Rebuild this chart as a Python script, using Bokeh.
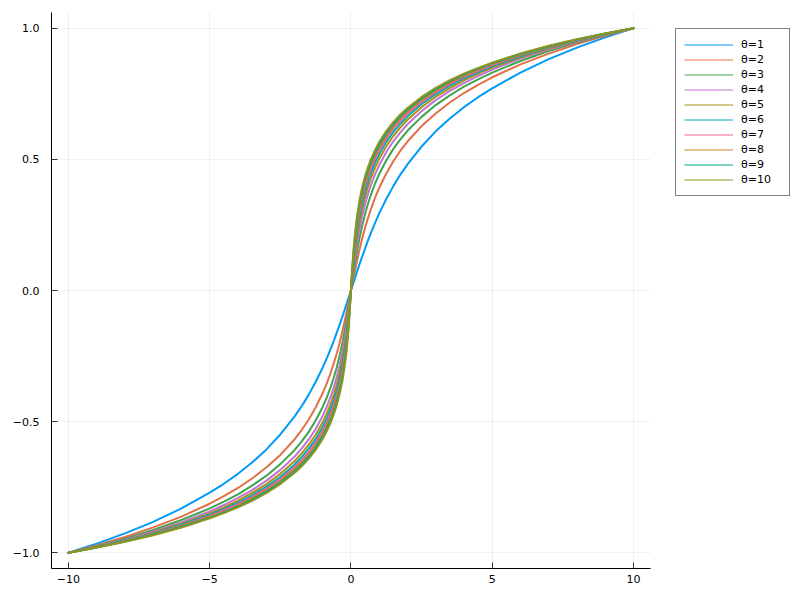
from bokeh.plotting import figure
from bokeh.models import Range1d, Legend, LegendItem, FixedTicker
from bokeh.embed import file_html
from bokeh.resources import INLINE

xs = [-10, -9, -8, -7, -6, -5, -4.5, -4, -3.5, -3, -2.5, -2, -1.75, -1.5, -1.25, -1, -0.85, -0.7,
      -0.6, -0.5, -0.4, -0.3, -0.2, -0.15, -0.1, -0.05, 0,
      0.05, 0.1, 0.15, 0.2, 0.3, 0.4, 0.5, 0.6, 0.7, 0.85, 1, 1.25, 1.5, 1.75, 2, 2.5, 3, 3.5,
      4, 4.5, 5, 6, 7, 8, 9, 10]

theta1 = [-1.0, -0.965, -0.926, -0.882, -0.831, -0.771, -0.737, -0.699, -0.656, -0.607, -0.549, -0.481, -0.442, -0.398, -0.349, -0.294, -0.257, -0.218,
          -0.190, -0.160, -0.130, -0.099, -0.066, -0.050, -0.033, -0.017, 0.0,
          0.017, 0.033, 0.050, 0.066, 0.099, 0.130, 0.160, 0.190, 0.218, 0.257, 0.294, 0.349, 0.398, 0.442, 0.481, 0.549, 0.607, 0.656,
          0.699, 0.737, 0.771, 0.831, 0.882, 0.926, 0.965, 1.0]
theta2 = [-1.0, -0.971, -0.940, -0.903, -0.862, -0.813, -0.784, -0.753, -0.717, -0.675, -0.627, -0.568, -0.533, -0.493, -0.446, -0.391, -0.353, -0.308,
          -0.275, -0.239, -0.199, -0.154, -0.106, -0.080, -0.054, -0.027, 0.0,
          0.027, 0.054, 0.080, 0.106, 0.154, 0.199, 0.239, 0.275, 0.308, 0.353, 0.391, 0.446, 0.493, 0.533, 0.568, 0.627, 0.675, 0.717,
          0.753, 0.784, 0.813, 0.862, 0.903, 0.940, 0.971, 1.0]
theta3 = [-1.0, -0.974, -0.946, -0.913, -0.875, -0.831, -0.805, -0.777, -0.744, -0.707, -0.662, -0.609, -0.576, -0.540, -0.496, -0.444, -0.407, -0.363,
          -0.330, -0.292, -0.248, -0.198, -0.139, -0.106, -0.072, -0.036, 0.0,
          0.036, 0.072, 0.106, 0.139, 0.198, 0.248, 0.292, 0.330, 0.363, 0.407, 0.444, 0.496, 0.540, 0.576, 0.609, 0.662, 0.707, 0.744,
          0.777, 0.805, 0.831, 0.875, 0.913, 0.946, 0.974, 1.0]
theta4 = [-1.0, -0.976, -0.949, -0.919, -0.884, -0.842, -0.818, -0.791, -0.761, -0.726, -0.684, -0.634, -0.603, -0.569, -0.528, -0.478, -0.442, -0.400,
          -0.367, -0.329, -0.285, -0.232, -0.167, -0.130, -0.089, -0.045, 0.0,
          0.045, 0.089, 0.130, 0.167, 0.232, 0.285, 0.329, 0.367, 0.400, 0.442, 0.478, 0.528, 0.569, 0.603, 0.634, 0.684, 0.726, 0.761,
          0.791, 0.818, 0.842, 0.884, 0.919, 0.949, 0.976, 1.0]
theta5 = [-1.0, -0.977, -0.952, -0.923, -0.889, -0.850, -0.827, -0.801, -0.772, -0.739, -0.699, -0.651, -0.622, -0.589, -0.550, -0.502, -0.468, -0.427,
          -0.395, -0.358, -0.313, -0.259, -0.191, -0.151, -0.104, -0.054, 0.0,
          0.054, 0.104, 0.151, 0.191, 0.259, 0.313, 0.358, 0.395, 0.427, 0.468, 0.502, 0.550, 0.589, 0.622, 0.651, 0.699, 0.739, 0.772,
          0.801, 0.827, 0.850, 0.889, 0.923, 0.952, 0.977, 1.0]
theta6 = [-1.0, -0.978, -0.953, -0.926, -0.893, -0.855, -0.833, -0.809, -0.781, -0.749, -0.711, -0.664, -0.636, -0.604, -0.567, -0.520, -0.487, -0.447,
          -0.416, -0.380, -0.336, -0.282, -0.212, -0.169, -0.119, -0.062, 0.0,
          0.062, 0.119, 0.169, 0.212, 0.282, 0.336, 0.380, 0.416, 0.447, 0.487, 0.520, 0.567, 0.604, 0.636, 0.664, 0.711, 0.749, 0.781,
          0.809, 0.833, 0.855, 0.893, 0.926, 0.953, 0.978, 1.0]
theta7 = [-1.0, -0.979, -0.955, -0.928, -0.897, -0.860, -0.838, -0.815, -0.788, -0.756, -0.720, -0.675, -0.648, -0.617, -0.580, -0.535, -0.503, -0.464,
          -0.433, -0.398, -0.355, -0.301, -0.230, -0.185, -0.132, -0.069, 0.0,
          0.069, 0.132, 0.185, 0.230, 0.301, 0.355, 0.398, 0.433, 0.464, 0.503, 0.535, 0.580, 0.617, 0.648, 0.675, 0.720, 0.756, 0.788,
          0.815, 0.838, 0.860, 0.897, 0.928, 0.955, 0.979, 1.0]
theta8 = [-1.0, -0.979, -0.956, -0.930, -0.899, -0.863, -0.843, -0.820, -0.793, -0.763, -0.727, -0.683, -0.657, -0.627, -0.591, -0.547, -0.515, -0.478,
          -0.448, -0.413, -0.370, -0.317, -0.246, -0.200, -0.144, -0.077, 0.0,
          0.077, 0.144, 0.200, 0.246, 0.317, 0.370, 0.413, 0.448, 0.478, 0.515, 0.547, 0.591, 0.627, 0.657, 0.683, 0.727, 0.763, 0.793,
          0.820, 0.843, 0.863, 0.899, 0.930, 0.956, 0.979, 1.0]
theta9 = [-1.0, -0.980, -0.957, -0.931, -0.902, -0.867, -0.846, -0.824, -0.798, -0.768, -0.733, -0.690, -0.665, -0.635, -0.600, -0.557, -0.526, -0.489,
          -0.460, -0.425, -0.384, -0.331, -0.260, -0.213, -0.156, -0.084, 0.0,
          0.084, 0.156, 0.213, 0.260, 0.331, 0.384, 0.425, 0.460, 0.489, 0.526, 0.557, 0.600, 0.635, 0.665, 0.690, 0.733, 0.768, 0.798,
          0.824, 0.846, 0.867, 0.902, 0.931, 0.957, 0.980, 1.0]
theta10 = [-1.0, -0.980, -0.958, -0.933, -0.904, -0.869, -0.849, -0.827, -0.802, -0.773, -0.738, -0.696, -0.671, -0.642, -0.608, -0.566, -0.535, -0.499,
           -0.470, -0.436, -0.395, -0.343, -0.272, -0.225, -0.166, -0.091, 0.0,
           0.091, 0.166, 0.225, 0.272, 0.343, 0.395, 0.436, 0.470, 0.499, 0.535, 0.566, 0.608, 0.642, 0.671, 0.696, 0.738, 0.773, 0.802,
           0.827, 0.849, 0.869, 0.904, 0.933, 0.958, 0.980, 1.0]

series = [theta1, theta2, theta3, theta4, theta5, theta6, theta7, theta8, theta9, theta10]
labels = ["θ=1", "θ=2", "θ=3", "θ=4", "θ=5", "θ=6", "θ=7", "θ=8", "θ=9", "θ=10"]
colors = ["#009AFA", "#E36F47", "#3EA44E", "#C371D2", "#AC8E18",
          "#00AAAE", "#ED5E93", "#C68225", "#00A98D", "#8E971D"]

x_ticks = [-10, -5, 0, 5, 10]
x_tick_labels = ["−10", "−5", "0", "5", "10"]
y_ticks = [-1.0, -0.5, 0.0, 0.5, 1.0]
y_tick_labels = ["−1.0", "−0.5", "0.0", "0.5", "1.0"]
x_lim = (-10.6, 10.6)
y_lim = (-1.06, 1.06)

FONT = "DejaVu Sans"
W, H = 800, 600
LEFT, BOTTOM, TOP = 51, 32, 12
px_per_x = 28.25  # horizontal scale of the axes box
x_end_frame = x_lim[0] + (W - LEFT) / px_per_x  # frame extends under the legend area

p = figure(width=W, height=H, output_backend="svg", toolbar_location=None,
           x_range=Range1d(x_lim[0], x_end_frame), y_range=Range1d(*y_lim),
           min_border_left=LEFT, min_border_right=0, min_border_top=TOP, min_border_bottom=BOTTOM)
p.outline_line_color = None
p.background_fill_color = "white"
p.border_fill_color = "white"

for ax, ticks, labs in ((p.xaxis[0], x_ticks, x_tick_labels), (p.yaxis[0], y_ticks, y_tick_labels)):
    ax.ticker = FixedTicker(ticks=ticks)
    ax.major_label_overrides = {t: l for t, l in zip(ticks, labs)}
    ax.major_tick_in = 6
    ax.major_tick_out = 0
    ax.minor_tick_in = 0
    ax.minor_tick_out = 0
    ax.axis_line_color = "black"
    ax.major_tick_line_color = "#333333"
    ax.major_label_text_font = FONT
    ax.major_label_text_font_size = "11px"
    ax.major_label_text_color = "black"
p.xaxis[0].bounds = x_lim
p.xaxis[0].major_label_standoff = 6
p.yaxis[0].major_label_standoff = 12

for g in (p.xgrid[0], p.ygrid[0]):
    g.grid_line_color = "black"
    g.grid_line_alpha = 0.06
    g.grid_line_width = 1
p.ygrid[0].cross_bounds = x_lim

items = []
for ys, lab, c in zip(series, labels, colors):
    p.line(xs, ys, line_color=c, line_width=2, line_join="round", line_cap="round")
    dummy = p.line([float("nan"), float("nan")], [float("nan"), float("nan")], line_color=c, line_width=1)
    items.append(LegendItem(label=lab, renderers=[dummy]))

legend = Legend(items=items, location=(675 - LEFT, (H - BOTTOM) - 196), margin=0, padding=8,
                spacing=0, glyph_width=49, glyph_height=15, label_height=15,
                label_width=40, label_standoff=8,
                label_text_font=FONT, label_text_font_size="11px",
                label_text_color="black",
                border_line_color="black", border_line_width=1,
                background_fill_color="white", background_fill_alpha=1.0)
p.add_layout(legend, "center")

open("out.html", "w").write(file_html(p, INLINE))
